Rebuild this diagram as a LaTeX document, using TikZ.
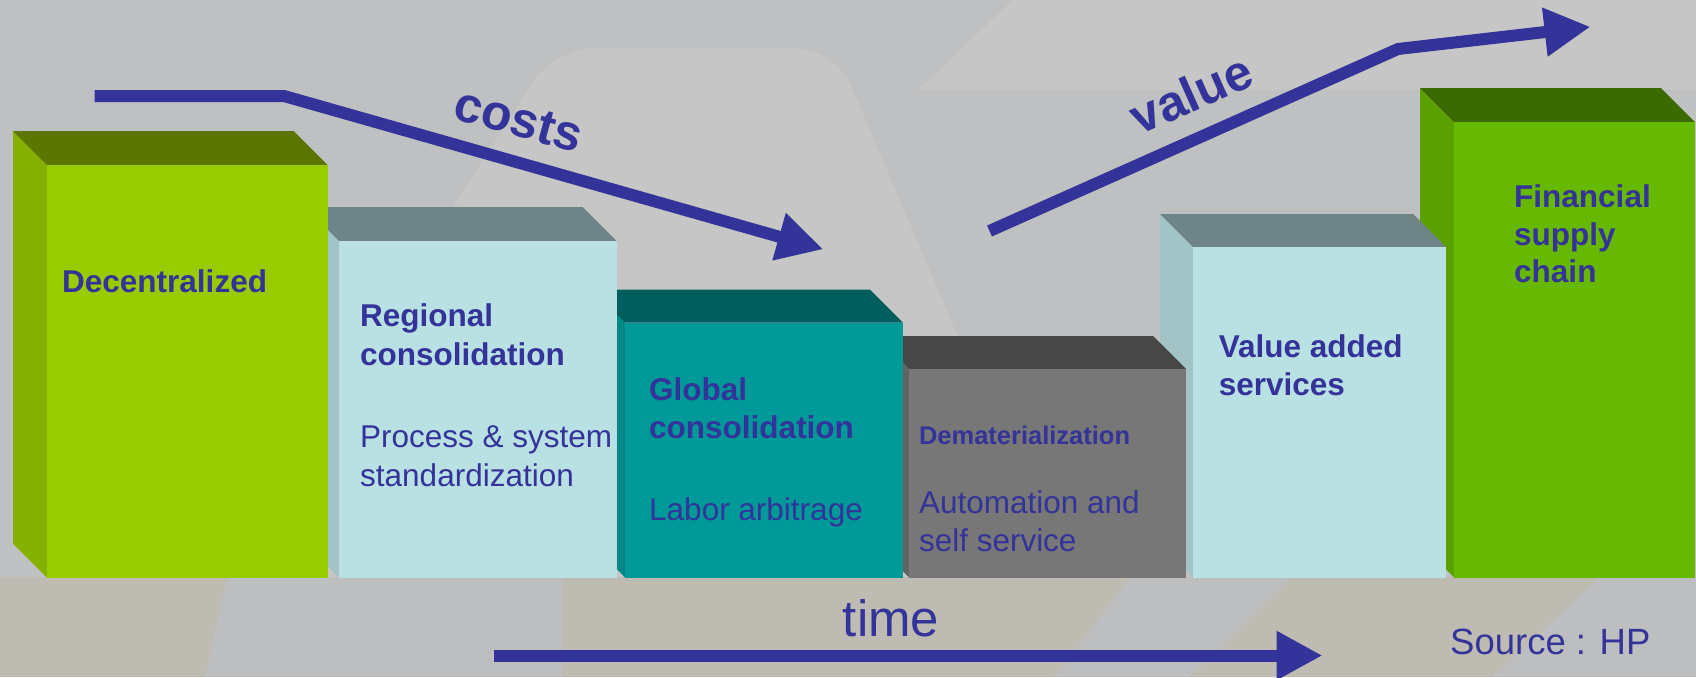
\documentclass[tikz,border=0pt]{standalone}
\usepackage{fontspec}
\setmainfont{Liberation Sans}
\usetikzlibrary{arrows.meta}
\definecolor{txt}{HTML}{333399}
\definecolor{bgbase}{HTML}{BFC0C2}
\definecolor{bglight}{HTML}{C5C6C5}
\definecolor{bgband}{HTML}{BDBEC0}
\definecolor{bgbeige}{HTML}{BEBBB3}
\definecolor{gFront}{HTML}{99CC00}\definecolor{gSide}{HTML}{86B000}\definecolor{gTop}{HTML}{5C7600}
\definecolor{cFront}{HTML}{B9E0E3}\definecolor{cSide}{HTML}{A3C4C7}\definecolor{cTop}{HTML}{6F8486}
\definecolor{tFront}{HTML}{009999}\definecolor{tSide}{HTML}{008888}\definecolor{tTop}{HTML}{005F5E}
\definecolor{dFront}{HTML}{777777}\definecolor{dSide}{HTML}{636363}\definecolor{dTop}{HTML}{474747}
\definecolor{fFront}{HTML}{66B800}\definecolor{fSide}{HTML}{5AA100}\definecolor{fTop}{HTML}{3B6B00}
\newcommand\drawbox[7]{%
  \fill[#6] (#1-#4,#3-#4) -- (#1,#3) -- (#1,577.5) -- (#1-#4,577.5-#4) -- cycle;
  \fill[#7] (#1-#4,#3-#4) -- (#2-#4,#3-#4) -- (#2,#3) -- (#1,#3) -- cycle;
  \fill[#5] (#1,#3) rectangle (#2,577.5);}
\begin{document}
\begin{tikzpicture}[x=1pt,y=-1pt,
  lbl/.style={inner sep=0pt, anchor=base west, text=txt},
  bigb/.style={lbl, font=\fontsize{31.5}{38}\selectfont\bfseries},
  bigr/.style={lbl, font=\fontsize{31.5}{38}\selectfont},
  flow/.style={draw=txt, line width=12pt, -{Triangle[length=46pt,width=46pt]}},
  slant/.style={inner sep=0pt, text=txt, font=\fontsize{50}{60}\selectfont\bfseries}
]
\useasboundingbox (0,0) rectangle (1696,677);
% background
\fill[bgbase] (0,0) rectangle (1696,677);
\fill[bglight, rounded corners=40pt] (555,48) -- (835,48) -- (1060,577) -- (215,577) -- cycle;
\fill[bglight] (1013,0) -- (1696,0) -- (1696,90) -- (918,90) -- cycle;
\fill[bgband] (0,577) rectangle (1696,677);
\fill[bgbeige] (0,577) -- (227,577) -- (205,677) -- (0,677) -- cycle;
\fill[bgbeige] (562,577) -- (1130,577) -- (1055,677) -- (562,677) -- cycle;
\fill[bgbeige] (1292,577) -- (1600,577) -- (1493,677) -- (1190,677) -- cycle;
% boxes, right to left
\drawbox{1454}{1695}{122.2}{34}{fFront}{fSide}{fTop}
\drawbox{1193}{1446}{247}{33}{cFront}{cSide}{cTop}
\drawbox{909}{1186}{369}{33}{dFront}{dSide}{dTop}
\drawbox{625}{903}{322.7}{33}{tFront}{tSide}{tTop}
\drawbox{339}{616.5}{241}{34}{cFront}{cSide}{cTop}
\drawbox{47}{327.5}{165}{34}{gFront}{gSide}{gTop}
% texts
\node[bigb] (dec) at (62,292.7) {Decentralized};
\node[bigb] (reg1) at (360,326.7) {Regional};
\node[bigb] (reg2) at (360,365) {consolidation};
\node[bigr] (reg3) at (360,447.7) {Process \& system};
\node[bigr] (reg4) at (360,486) {standardization};
\node[bigb] (glo1) at (649,400.7) {Global};
\node[bigb] (glo2) at (649,438.3) {consolidation};
\node[bigr] (glo3) at (649,520.7) {Labor arbitrage};
\node[lbl, font=\fontsize{25.5}{30}\selectfont\bfseries] (dem1) at (918.8,444) {Dematerialization};
\node[bigr] (dem2) at (918.8,513.3) {Automation and};
\node[bigr] (dem3) at (918.8,551.7) {self service};
\node[bigb] (vas1) at (1218.6,357.5) {Value added};
\node[bigb] (vas2) at (1218.6,395) {services};
\node[bigb] (fin1) at (1514,207.3) {Financial};
\node[bigb] (fin2) at (1514,245.3) {supply};
\node[bigb] (fin3) at (1514,282.8) {chain};
\node[lbl, font=\fontsize{36.5}{44}\selectfont] (src) at (1450,654.3) {Source : HP};
\node[lbl, font=\fontsize{51}{60}\selectfont] (time) at (842.7,636.7) {time};
\node[slant, rotate=-15.5] (costs) at (518.5,120) {costs};
\node[slant, rotate=24] (value) at (1191,93.5) {value};
% arrows
\coordinate (c0) at (94.5,96);
\coordinate (c1) at (284,96);
\coordinate (c2) at (823.3,249.3);
\draw[flow] (c0) -- (c1) -- (c2);
\coordinate (v0) at (989.5,231);
\coordinate (v1) at (1398,49);
\coordinate (v2) at (1590.5,26.8);
\draw[flow] (v0) -- (v1) -- (v2);
\coordinate (t0) at (493.7,655.5);
\coordinate (t1) at (1322.5,655.5);
\draw[flow] (t0) -- (t1);
\end{tikzpicture}
\end{document}
